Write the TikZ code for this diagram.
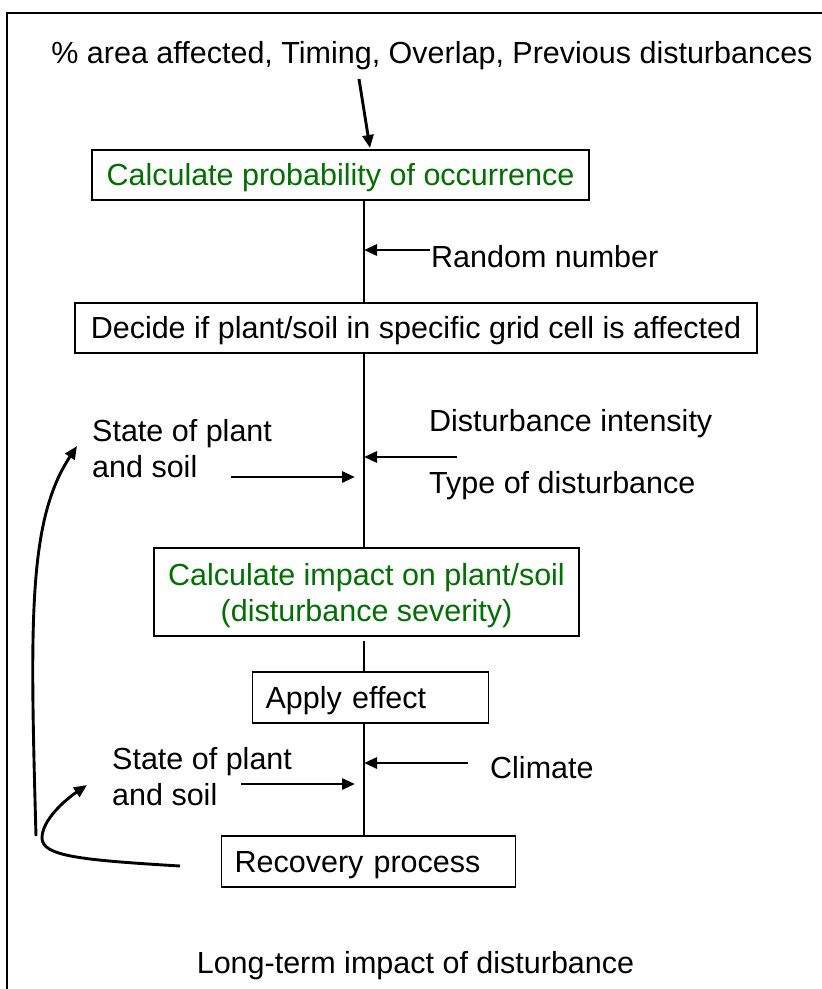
\documentclass[tikz,border=0pt]{standalone}
\usepackage{fontspec}
\setmainfont{Liberation Sans}
\usetikzlibrary{arrows.meta}
\definecolor{boxgreen}{RGB}{0,112,0}
\begin{document}
\begin{tikzpicture}[x=1pt,y=-1pt,
  every node/.style={font=\fontsize{30.5}{36}\selectfont, inner sep=0pt},
  stepbox/.style={draw, line width=1.3pt, inner sep=0pt, text height=26pt, text depth=5pt},
  arr/.style={line width=2.9pt, -{Triangle[length=13pt,width=11pt]}},
  spineline/.style={line width=1.2pt},
  frameline/.style={line width=2.4pt, line join=miter}]
\useasboundingbox (0,0) rectangle (822,989);
% frame
\draw[frameline] (7,989) -- (7,13) -- (822,13);
% texts and boxes
\node[anchor=base] (inputs) at (432,63) {\% area affected, Timing, Overlap, Previous disturbances};
\node[stepbox, minimum width=497pt, minimum height=50pt, text=boxgreen] (prob) at (340.5,175) {Calculate probability of occurrence};
\node[stepbox, minimum width=682pt, minimum height=50pt] (decide) at (416,328) {Decide if plant/soil in specific grid cell is affected};
\node[stepbox, minimum width=425pt, minimum height=88pt, text=boxgreen, align=center, text height=63pt, text depth=5pt] (impact) at (366.5,592) {Calculate impact on plant/soil\\(disturbance severity)};
\node[stepbox, anchor=west, text width=210pt, inner xsep=13pt, minimum height=51pt, align=left] (apply) at (252,697.5) {Apply effect};
\node[stepbox, anchor=west, text width=268pt, inner xsep=13pt, minimum height=51pt, align=left] (recov) at (221,861.5) {Recovery process};
\node[anchor=base west] (rand) at (431,267) {Random number};
\node[anchor=base west, align=left] (state1) at (92,477) {State of plant\\and soil};
\node[anchor=base west] (intens) at (429,431) {Disturbance intensity};
\node[anchor=base west] (dtype) at (429,493) {Type of disturbance};
\node[anchor=base west, align=left] (state2) at (112,805) {State of plant\\and soil};
\node[anchor=base west] (climate) at (490,778) {Climate};
\node[anchor=base] (longterm) at (415.5,973) {Long-term impact of disturbance};
% spine
\coordinate (spine) at (364,0);
\draw[spineline] (prob.south -| spine) -- (decide.north -| spine);
\draw[spineline] (decide.south -| spine) -- (impact.north -| spine);
\coordinate (gap) at (364,641);
\draw[spineline] (gap) -- (apply.north -| spine);
\draw[spineline] (apply.south -| spine) -- (recov.north -| spine);
% arrows
\coordinate (inA) at (359,79);
\coordinate (inB) at (370,148);
\draw[arr] (inA) -- (inB);
\coordinate (randT) at (430,250);
\draw[arr] (randT) -- (randT -| spine);
\coordinate (distT) at (457,457);
\draw[arr] (distT) -- (distT -| spine);
\coordinate (s1a) at (231,477);
\coordinate (s1b) at (355,477);
\draw[arr] (s1a) -- (s1b);
\coordinate (s2a) at (241,784);
\coordinate (s2b) at (355,784);
\draw[arr] (s2a) -- (s2b);
\coordinate (climT) at (468,763);
\draw[arr] (climT) -- (climT -| spine);
% feedback curves
\coordinate (fbA) at (36,836);
\coordinate (fbB) at (77,446);
\draw[arr] (fbA) .. controls (30,620) and (28,520) .. (fbB);
\coordinate (fcA) at (180,866);
\coordinate (fcM) at (42,838);
\coordinate (fcB) at (87,785);
\draw[arr] (fcA) .. controls (80,860) and (42,856) .. (fcM) .. controls (42,820) and (65,800) .. (fcB);
\end{tikzpicture}
\end{document}
